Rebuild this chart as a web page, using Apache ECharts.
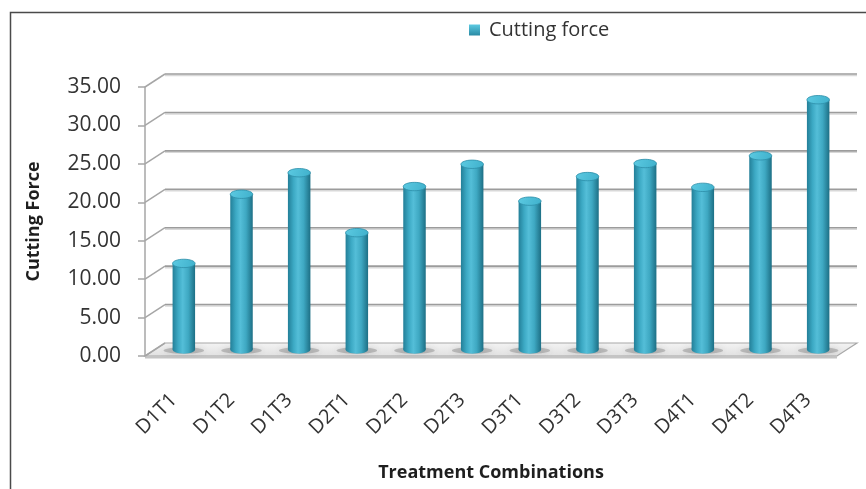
<!DOCTYPE html>
<html>
<head>
<meta charset="utf-8">
<script src="https://cdn.jsdelivr.net/npm/echarts@6/dist/echarts.min.js"></script>
<style>
  html, body { margin: 0; padding: 0; background: #ffffff; }
  #chart { width: 866px; height: 489px; }
</style>
</head>
<body>
<div id="chart"></div>
<script>
// Treatment combinations (depth D x tool T) and measured cutting force
const categories = ['D1T1', 'D1T2', 'D1T3', 'D2T1', 'D2T2', 'D2T3', 'D3T1', 'D3T2', 'D3T3', 'D4T1', 'D4T2', 'D4T3'];
const cuttingForce = [11.2, 20.2, 23.0, 15.2, 21.2, 24.1, 19.3, 22.5, 24.2, 21.1, 25.2, 32.5];
const yTicks = [0, 5, 10, 15, 20, 25, 30, 35];

// Oblique projection offset from the front plane to the back wall
const DX = 20, DY = -13;
const FONT = '"Open Sans", sans-serif';

const chart = echarts.init(document.getElementById('chart'));

// Back wall gridlines, their diagonal connectors and the floor slab
function renderWall(params, api) {
  const v = api.value(1);
  const band = api.size([1, 0])[0];
  const first = api.coord([0, v]);
  const last = api.coord([categories.length - 1, v]);
  const x0 = first[0] - band / 2, x1 = last[0] + band / 2, y = first[1];
  const children = [];
  if (v === 0) {
    children.push({
      type: 'polygon',
      shape: { points: [[x0, y], [x0 + DX, y + DY], [x1 + DX, y + DY], [x1, y]] },
      style: {
        fill: new echarts.graphic.LinearGradient(0, 0, 0, 1, [
          { offset: 0, color: '#f4f4f4' }, { offset: 1, color: '#e0e0e0' }
        ]),
        stroke: '#a8a8a8', lineWidth: 1.2
      }
    });
    children.push({
      type: 'rect',
      shape: { x: x0, y: y, width: x1 - x0, height: 2.5 },
      style: { fill: '#c4c4c4' }
    });
  }
  children.push({
    type: 'line',
    shape: { x1: x0, y1: y, x2: x0 + DX, y2: y + DY },
    style: { stroke: '#a6a6a6', lineWidth: 1.5 }
  });
  if (v !== 0) {
    children.push({
      type: 'line',
      shape: { x1: x0 + DX, y1: y + DY + 1.5, x2: x1 + DX, y2: y + DY + 1.5 },
      style: { stroke: '#d8d8d8', lineWidth: 1.5 }
    });
    children.push({
      type: 'line',
      shape: { x1: x0 + DX, y1: y + DY, x2: x1 + DX, y2: y + DY },
      style: { stroke: '#9c9c9c', lineWidth: 1.6 }
    });
  }
  return { type: 'group', children: children };
}

const bodyGradient = () => new echarts.graphic.LinearGradient(0, 0, 1, 0, [
  { offset: 0, color: '#237f98' },
  { offset: 0.25, color: '#3ca9c4' },
  { offset: 0.45, color: '#54bed8' },
  { offset: 0.7, color: '#3ea8c2' },
  { offset: 1, color: '#1d6f85' }
]);

// Cylinder standing at mid-depth of the floor
function renderCylinder(params, api) {
  const idx = api.value(0), v = api.value(1);
  const top = api.coord([idx, v]);
  const base = api.coord([idx, 0]);
  const cx = top[0] + DX / 2;
  const yt = top[1] + DY / 2;
  const yb = base[1] + DY / 2;
  const band = api.size([1, 0])[0];
  const r = band * 0.195;
  const ry = 4.2;
  return {
    type: 'group',
    children: [
      {
        type: 'ellipse',
        shape: { cx: cx, cy: yb + 1, rx: r * 1.8, ry: 3.2 },
        style: { fill: 'rgba(110,110,110,0.35)', shadowBlur: 6, shadowColor: 'rgba(60,60,60,0.5)' }
      },
      {
        type: 'ellipse',
        shape: { cx: cx, cy: yb, rx: r, ry: ry },
        style: { fill: bodyGradient() }
      },
      {
        type: 'rect',
        shape: { x: cx - r, y: yt, width: 2 * r, height: yb - yt },
        style: { fill: bodyGradient() }
      },
      {
        type: 'ellipse',
        shape: { cx: cx, cy: yt, rx: r, ry: ry },
        style: {
          fill: new echarts.graphic.LinearGradient(0, 0, 1, 1, [
            { offset: 0, color: '#5ccae2' }, { offset: 1, color: '#3fb0cb' }
          ]),
          stroke: '#2d8ea8', lineWidth: 0.8
        }
      }
    ]
  };
}

chart.setOption({
  animation: false,
  backgroundColor: '#ffffff',
  graphic: [{
    type: 'rect',
    left: 8, top: 10,
    shape: { width: 900, height: 520 },
    style: { fill: 'none', stroke: '#4a4a4a', lineWidth: 1.5 },
    silent: true, z: -10
  }],
  legend: {
    left: 464, top: 15,
    itemWidth: 11, itemHeight: 11,
    textStyle: { fontFamily: FONT, fontSize: 20, color: '#333333', padding: [0, 0, 0, 4] },
    data: [{
      name: 'Cutting force',
      icon: 'rect',
      itemStyle: {
        color: new echarts.graphic.LinearGradient(0, 0, 0, 1, [
          { offset: 0, color: '#5ccae2' }, { offset: 1, color: '#2a8aa4' }
        ])
      }
    }]
  },
  grid: { left: 145, right: 29, top: 87, bottom: 133, outerBoundsMode: 'none', containLabel: false },
  xAxis: {
    type: 'category',
    data: categories,
    boundaryGap: true,
    axisLine: { show: false },
    axisTick: { show: false },
    axisLabel: {
      rotate: 45, margin: 41, interval: 0,
      fontFamily: FONT, fontSize: 20, color: '#333333'
    },
    name: 'Treatment Combinations',
    nameLocation: 'middle',
    nameGap: 108,
    nameTextStyle: { fontFamily: FONT, fontSize: 18, fontWeight: 'bold', color: '#1e1e1e' }
  },
  yAxis: {
    type: 'value',
    min: 0, max: 35, interval: 5,
    axisLine: { show: true, lineStyle: { color: '#a6a6a6', width: 1.5 } },
    axisTick: { show: true, length: 7, lineStyle: { color: '#a6a6a6', width: 1.5 } },
    splitLine: { show: false },
    axisLabel: {
      margin: 24,
      fontFamily: FONT, fontSize: 21, color: '#333333',
      formatter: v => v.toFixed(2)
    },
    name: 'Cutting Force',
    nameLocation: 'middle',
    nameRotate: 90,
    nameGap: 102,
    nameTextStyle: { fontFamily: FONT, fontSize: 18, fontWeight: 'bold', color: '#1e1e1e' }
  },
  series: [
    {
      name: 'wall',
      type: 'custom',
      renderItem: renderWall,
      data: yTicks.map(v => [0, v]),
      encode: { x: 0, y: 1 },
      clip: false,
      silent: true,
      z: 1
    },
    {
      name: 'Cutting force',
      type: 'custom',
      renderItem: renderCylinder,
      data: cuttingForce.map((v, i) => [i, v]),
      encode: { x: 0, y: 1 },
      itemStyle: { color: '#3fa9c4' },
      clip: false,
      z: 5
    }
  ]
});
</script>
</body>
</html>
